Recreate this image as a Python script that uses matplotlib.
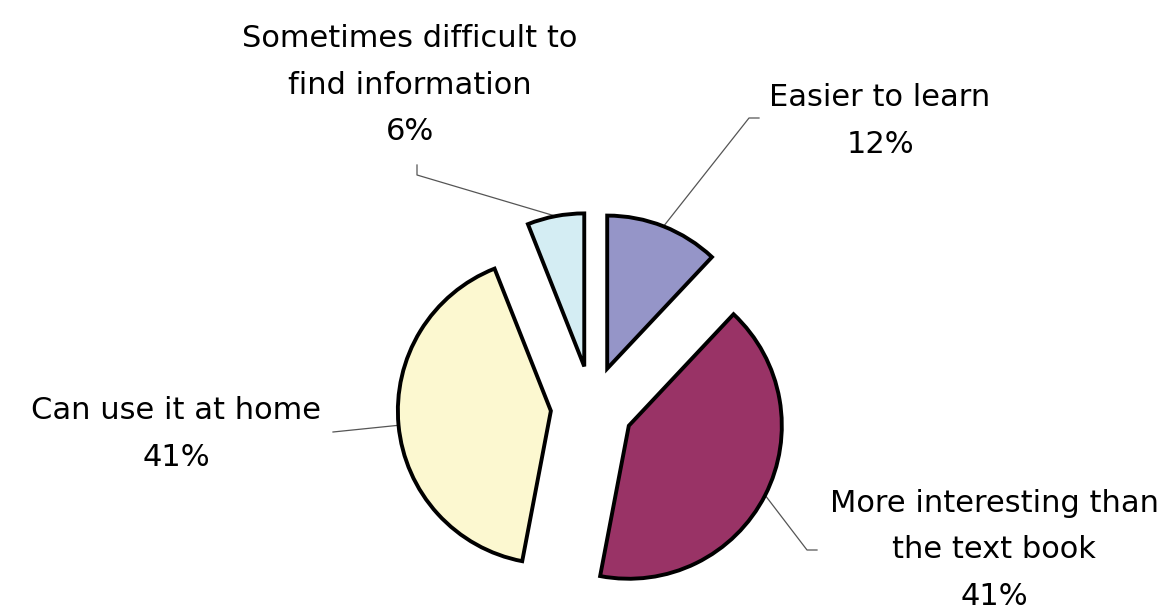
import numpy as np
import matplotlib
matplotlib.use("Agg")
import matplotlib.pyplot as plt

labels = ["Easier to learn", "More interesting than\nthe text book",
          "Can use it at home", "Sometimes difficult to\nfind information"]
values = [12, 41, 41, 6]
colors = ["#9595C8", "#993366", "#FCF8D0", "#D4EDF3"]

W, H = 1173, 616
fig = plt.figure(figsize=(W / 100, H / 100), dpi=100)
ax = fig.add_axes([0, 0, 1, 1])

cx, cy, R = 592, H - 407, 153
wedges, _ = ax.pie(values, colors=colors, startangle=90, counterclock=False,
                   explode=[0.27 * R] * 4, radius=R, center=(cx, cy),
                   wedgeprops=dict(edgecolor="black", linewidth=2.8,
                                   joinstyle="miter"))
ax.set_xlim(0, W)
ax.set_ylim(0, H)
ax.set_aspect("equal")
ax.axis("off")

# label text centers (pixel coords, y from top) and leader elbows
text_pos = [(880, 121), (994, 550), (176, 434), (410, 85)]
elbows = [[(749, 118), (759, 118)],
          [(807, 550), (817, 550)],
          [(333, 432)],
          [(417, 175), (417, 165)]]

for w, lab, v, (tx, ty), elb in zip(wedges, labels, values, text_pos, elbows):
    mid = np.deg2rad((w.theta1 + w.theta2) / 2)
    px = w.center[0] + w.r * np.cos(mid)
    py = w.center[1] + w.r * np.sin(mid)
    xs = [px] + [e[0] for e in elb]
    ys = [py] + [H - e[1] for e in elb]
    ax.plot(xs, ys, color="#555555", lw=0.9, zorder=0)
    ax.text(tx, H - ty, f"{lab}\n{v}%", ha="center", va="center",
            fontsize=22, linespacing=1.74, color="black", family="DejaVu Sans")

fig.savefig("out.png", dpi=100)
